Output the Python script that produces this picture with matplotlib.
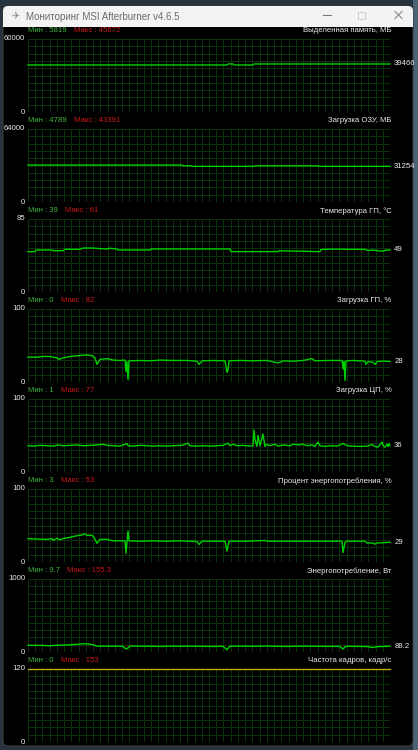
import numpy as np
import matplotlib
matplotlib.use('Agg')
import matplotlib.pyplot as plt
from matplotlib.patches import Rectangle, FancyBboxPatch

# ---------------- data ----------------
titles = ['Выделенная память, МБ', 'Загрузка ОЗУ, МБ', 'Температура ГП, °C',
          'Загрузка ГП, %', 'Загрузка ЦП, %', 'Процент энергопотребления, %',
          'Энергопотребление, Вт', 'Частота кадров, кадр/с']
min_labels = ['5819', '4789', '39', '0', '1', '3', '9.7', '0']
max_labels = ['45872', '43391', '61', '82', '77', '53', '155.3', '153']
ymax_vals = [60000, 64000, 85, 100, 100, 100, 1000, 120]
cur_labels = ['39466', '31254', '49', '28', '36', '29', '88.2', '']

mem_t = [0, 199, 200, 205, 206, 225, 226, 362]
mem_v = [38640, 38640, 39466, 39466, 38640, 38640, 39466, 39466]

ram_t = [0, 154, 155, 163, 164, 226, 227, 290, 291, 362]
ram_v = [32400, 32400, 31800, 31800, 31254, 31254, 31700, 31700, 31254, 31254]

temp_t = [0, 7, 8, 24, 25, 35, 37, 52, 55, 65, 72, 80, 81, 89, 90, 122, 123,
          202, 203, 250, 251, 292, 293, 305, 320, 337, 340, 345, 350, 355, 358, 362]
temp_v = [47, 47, 48.9, 48.9, 48.1, 48.1, 49.7, 49.7, 51.2, 51.2, 50.5, 50.1, 51, 50.1, 48.9, 48.9, 50.1,
          50.1, 47, 47, 48, 47, 49.5, 50, 49.7, 49.7, 48.2, 48.9, 48, 47.5, 48.8, 49]

gpu_t = [0, 9, 15, 22, 29, 31, 35, 42, 49, 59, 64, 67, 69, 72, 79, 85, 92, 97, 98, 99, 100, 101,
         112, 122, 132, 145, 159, 169, 171, 174, 185, 197, 199, 200, 201, 212, 225, 239, 250, 255,
         265, 275, 284, 287, 299, 314, 315, 316, 317, 318, 325, 337, 338, 340, 345, 347, 349, 355, 362]
gpu_v = [34, 34, 35, 35, 33, 31, 33, 35, 36, 37, 36, 33, 24, 31, 32, 30, 29.5, 30, 14, 28, 3.6, 29,
         29.5, 29, 30, 29.5, 29.5, 28.5, 24, 29, 29.5, 29, 13, 16, 29, 29.5, 29, 29.5, 26, 29,
         28.5, 29.5, 32, 29, 29.5, 29.5, 18, 28, 2, 29, 29.5, 28.5, 24, 28, 27, 24, 28, 28.5, 28]

cpu_t = [0, 5, 12, 19, 25, 30, 35, 42, 49, 55, 62, 69, 75, 79, 85, 92, 99, 100, 105, 112, 119,
         125, 132, 139, 145, 154, 160, 162, 169, 175, 182, 189, 195, 200, 202, 205, 209, 215, 222,
         225, 226, 227, 229, 230, 232, 234, 235, 237, 239, 242, 247, 250, 255, 262, 265, 272, 274,
         279, 284, 287, 290, 292, 297, 302, 309, 315, 319, 325, 332, 339, 344, 347, 350, 354, 355,
         357, 359, 360, 361, 362]
cpu_v = [36, 35.5, 36.5, 36, 35.5, 37, 36, 36.5, 37, 36, 36.5, 37, 38, 36.5, 36, 35.5, 39, 36, 35.5, 36.5, 36,
         35.5, 36, 35.5, 36, 36.5, 39.5, 36, 35.5, 36, 35.5, 36, 36.5, 39.5, 36, 38, 36, 36.5, 35.5,
         36, 57.5, 44, 35, 50, 36, 46, 52, 35, 38, 36, 38, 35.5, 37, 36, 38, 37, 38.5,
         36, 37, 35, 41, 36, 35, 36, 35.5, 39, 36, 35.5, 35, 35.5, 37.5, 35, 34, 41, 36,
         34, 38, 35, 39, 36]

pct_t = [0, 9, 19, 24, 25, 29, 32, 35, 39, 44, 49, 54, 57, 59, 64, 66, 69, 72, 79, 85, 92, 97, 98,
         100, 101, 112, 125, 139, 152, 169, 171, 174, 185, 197, 199, 201, 219, 237, 239, 259, 279,
         299, 314, 315, 317, 319, 337, 339, 345, 347, 349, 362]
pct_v = [32, 31.5, 31, 32, 29.5, 32.5, 30.5, 32, 33, 34.5, 36, 37, 38.5, 36.5, 36.5, 34, 25.5, 31, 31, 29, 29, 29, 12,
         42.5, 29, 28.5, 29, 28.5, 29, 28, 24, 28.5, 28.5, 28.5, 15, 28.5, 28.5, 29.5, 28.5, 28.5, 28.5,
         28.5, 28.5, 13, 27, 28.5, 28.5, 26, 26, 24.5, 26, 27]

pwr_t = [0, 15, 22, 29, 39, 49, 55, 60, 65, 69, 82, 95, 98, 100, 102, 112, 125, 135, 139, 152, 159,
         172, 185, 195, 199, 200, 202, 212, 225, 239, 245, 259, 272, 289, 312, 315, 317, 319, 332,
         339, 345, 349, 362]
pwr_v = [92, 90, 86, 92, 96, 105, 114, 110, 100, 80, 80, 78, 40, 55, 82, 80, 78, 76, 80, 78, 80,
         78, 76, 78, 30, 50, 80, 80, 78, 82, 78, 76, 80, 78, 76, 40, 70, 78, 76,
         74, 62, 72, 80]

fps_t = [0, 362]
fps_v = [144, 144]

series_t = [mem_t, ram_t, temp_t, gpu_t, cpu_t, pct_t, pwr_t, fps_t]
series_v = [mem_v, ram_v, temp_v, gpu_v, cpu_v, pct_v, pwr_v, fps_v]

# ---------------- figure ----------------
W, H = 418, 750
fig = plt.figure(figsize=(W / 100, H / 100), dpi=100)
fig.patch.set_facecolor('#26323d')
plt.rcParams['font.family'] = ['Liberation Sans', 'DejaVu Sans']

bg = fig.add_axes([0, 0, 1, 1])
bg.set_xlim(0, W)
bg.set_ylim(H, 0)
bg.axis('off')
bg.add_patch(Rectangle((413, 0), 5, 750, fc='#4d6275', ec='none'))
bg.add_patch(FancyBboxPatch((3, 6), 410, 740, boxstyle='round,pad=0,rounding_size=5',
                            fc='black', ec='#3c3c3c', lw=0.8))
bg.add_patch(FancyBboxPatch((3, 6), 410, 21, boxstyle='round,pad=0,rounding_size=5',
                            fc='#f3f3f3', ec='none'))
bg.add_patch(Rectangle((3, 18), 410, 9, fc='#f3f3f3', ec='none'))
bg.text(26, 16.5, 'Мониторинг MSI Afterburner v4.6.5', fontsize=7.0, color='#6b6b6b',
        va='center', ha='left')
bg.text(15, 16.5, '✈', fontsize=7, color='#8a8a8a', va='center', ha='center',
        family=['DejaVu Sans'])
bg.plot([323, 331], [14.5, 14.5], color='#7a7a7a', lw=0.8)
bg.add_patch(Rectangle((358, 11.5), 7, 7, fc='none', ec='#cccccc', lw=0.7))
bg.plot([395, 402], [11.5, 18.5], color='#888888', lw=0.8)
bg.plot([395, 402], [18.5, 11.5], color='#888888', lw=0.8)

GRID = '#0a320a'
LINE = '#00d000'
FS = 5.6

for k in range(8):
    top = 39 + 90 * k
    ax = fig.add_axes([28 / W, 1 - (top + 73) / H, 362 / W, 73 / H])
    ax.set_facecolor('black')
    ymax = ymax_vals[k]
    ax.set_xlim(0, 362)
    ax.set_ylim(0, ymax)
    ax.set_xticks(np.linspace(0, 362, 51))
    ax.set_yticks(np.linspace(0, ymax, 11))
    ax.grid(True, color=GRID, lw=0.75)
    ax.set_axisbelow(True)
    ax.tick_params(length=0, labelleft=False, labelbottom=False)
    for s in ax.spines.values():
        s.set_visible(False)

    t = np.array(series_t[k], dtype=float)
    v = np.minimum(np.array(series_v[k], dtype=float), ymax)
    color = '#b8b000' if k == 7 else LINE
    ax.plot(t, v, color=color, lw=1.0, clip_on=False, zorder=3)

    # axis labels
    ax.annotate(f'{ymax}', xy=(0, 1), xycoords='axes fraction', xytext=(-2, 0),
                textcoords='offset points', ha='right', va='center', fontsize=FS, color='#e6e6e6')
    ax.annotate('0', xy=(0, 0), xycoords='axes fraction', xytext=(-2, 0),
                textcoords='offset points', ha='right', va='center', fontsize=FS, color='#e6e6e6')
    # header
    mn = ax.annotate(f'Мин : {min_labels[k]}', xy=(0, 1), xycoords='axes fraction', xytext=(0, 5.8),
                     textcoords='offset points', ha='left', va='center', fontsize=FS, color='#3cb43c')
    ax.annotate(f'Макс : {max_labels[k]}', xy=(1, 0.5), xycoords=mn, xytext=(5.2, 0),
                textcoords='offset points', ha='left', va='center', fontsize=FS, color='#c81818')
    ax.annotate(titles[k], xy=(1, 1), xycoords='axes fraction', xytext=(1, 5.8),
                textcoords='offset points', ha='right', va='center', fontsize=FS, color='#ececec')
    if cur_labels[k]:
        ax.annotate(cur_labels[k], xy=(t[-1], v[-1]), xycoords='data', xytext=(3, 0),
                    textcoords='offset points', ha='left', va='center', fontsize=FS,
                    color='#ececec', annotation_clip=False)

fig.savefig('out.png', dpi=100, facecolor=fig.get_facecolor())
